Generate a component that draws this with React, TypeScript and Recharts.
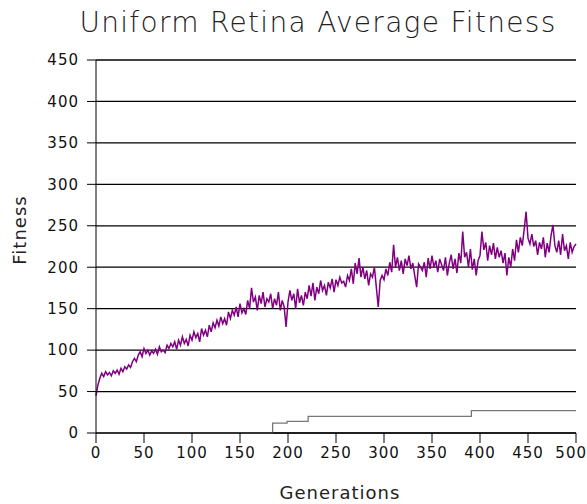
import { LineChart, Line, XAxis, YAxis, CartesianGrid } from 'recharts'

// average fitness, sampled every 2 generations (0..500)
const fitness = [
  45, 58, 66, 72, 68, 74, 70, 73, 69, 75,
  72, 76, 71, 78, 74, 80, 77, 82, 79, 86,
  90, 86, 94, 98, 92, 102, 96, 100, 94, 99,
  96, 101, 95, 104, 98, 100, 97, 106, 102, 108,
  104, 110, 101, 112, 106, 116, 108, 113, 105, 118,
  112, 122, 115, 120, 110, 126, 118, 124, 116, 130,
  122, 133, 127, 136, 129, 140, 132, 138, 130, 146,
  138, 148, 142, 152, 140, 156, 145, 150, 143, 160,
  150, 175, 158, 164, 148, 166, 156, 170, 152, 162,
  158, 168, 150, 162, 154, 170, 148, 160, 152, 128,
  158, 172, 160, 168, 150, 174, 157, 166, 154, 170,
  162, 178, 165, 181, 160, 176, 168, 184, 172, 178,
  166, 182, 175, 186, 170, 185, 178, 188, 181, 183,
  176, 190, 184, 198, 180, 205, 192, 211, 188, 200,
  186, 196, 178, 192, 188, 200, 176, 152, 184, 190,
  185, 198, 190, 206, 194, 227, 200, 212, 196, 208,
  192, 210, 202, 214, 198, 205, 190, 176, 204, 200,
  196, 206, 188, 211, 198, 214, 200, 208, 194, 210,
  203, 196, 212, 190, 205, 215, 198, 210, 193, 217,
  205, 243, 212, 218, 200, 222, 197, 210, 190, 208,
  214, 243, 221, 230, 208, 226, 215, 229, 210, 224,
  212, 220, 205, 217, 190, 212, 200, 222, 208, 233,
  218, 236, 226, 245, 267, 235, 228, 240, 225, 232,
  215, 230, 222, 236, 212, 229, 218, 238, 251, 226,
  218, 232, 215, 240, 220, 226, 210, 230, 218, 225,
  228,
]

// gray step series
const stepGens = [0, 184, 199, 221, 391, 500]
const stepValues = [0, 12, 14, 20, 27, 27]

const xTicks = [0, 50, 100, 150, 200, 250, 300, 350, 400, 450, 500]
const yTicks = [0, 50, 100, 150, 200, 250, 300, 350, 400, 450]

const avgData = fitness.map((v, i) => ({ gen: i * 2, fitness: v }))
const stepData = stepGens.map((g, i) => ({ gen: g, best: stepValues[i] }))

const font = 'DejaVu Sans, sans-serif'
const tickStyle = { fill: '#111', fontSize: 15, fontFamily: font, letterSpacing: 1 }

// last label is pulled inside so it is not clipped, like the original
function XTick(props: any) {
  const { x, y, payload, index, visibleTicksCount } = props
  const last = index === visibleTicksCount - 1
  return (
    <text
      x={last ? x + 11 : x}
      y={y}
      dy="0.71em"
      textAnchor={last ? 'end' : 'middle'}
      {...tickStyle}
    >
      {payload.value}
    </text>
  )
}

export default function App() {
  return (
    <div style={{ position: 'absolute', left: 0, top: 0, width: 587, height: 504, fontFamily: font }}>
      <div
        style={{
          position: 'absolute',
          left: 0,
          width: 636,
          top: 6,
          textAlign: 'center',
          fontSize: 28,
          fontWeight: 300,
          letterSpacing: 1.3,
          color: '#222',
        }}
      >
        Uniform Retina Average Fitness
      </div>
      <div
        style={{
          position: 'absolute',
          left: 20,
          top: 230,
          fontSize: 18,
          letterSpacing: 1,
          color: '#222',
          lineHeight: '20px',
          transform: 'translate(-50%, -50%) rotate(-90deg)',
          whiteSpace: 'nowrap',
        }}
      >
        Fitness
      </div>
      <div
        style={{
          position: 'absolute',
          left: 0,
          width: 680,
          top: 482,
          textAlign: 'center',
          fontSize: 18,
          letterSpacing: 1,
          color: '#222',
        }}
      >
        Generations
      </div>
      <LineChart width={587} height={504} margin={{ top: 60, right: 11, bottom: 41, left: 0 }}>
        <CartesianGrid vertical={false} stroke="#000" strokeWidth={1.3} />
        <XAxis
          type="number"
          dataKey="gen"
          domain={[0, 500]}
          ticks={xTicks}
          interval={0}
          stroke="#000"
          tickSize={10}
          tickMargin={4}
          tick={<XTick />}
          allowDuplicatedCategory={false}
        />
        <YAxis
          type="number"
          domain={[0, 450]}
          ticks={yTicks}
          interval={0}
          width={96}
          stroke="#000"
          tickSize={9}
          tickMargin={8}
          tick={tickStyle}
        />
        <Line
          data={stepData}
          dataKey="best"
          type="stepAfter"
          stroke="#777"
          strokeWidth={1.3}
          dot={false}
          isAnimationActive={false}
        />
        <Line
          data={avgData}
          dataKey="fitness"
          type="linear"
          stroke="#800080"
          strokeWidth={1.5}
          dot={false}
          isAnimationActive={false}
        />
      </LineChart>
    </div>
  )
}
